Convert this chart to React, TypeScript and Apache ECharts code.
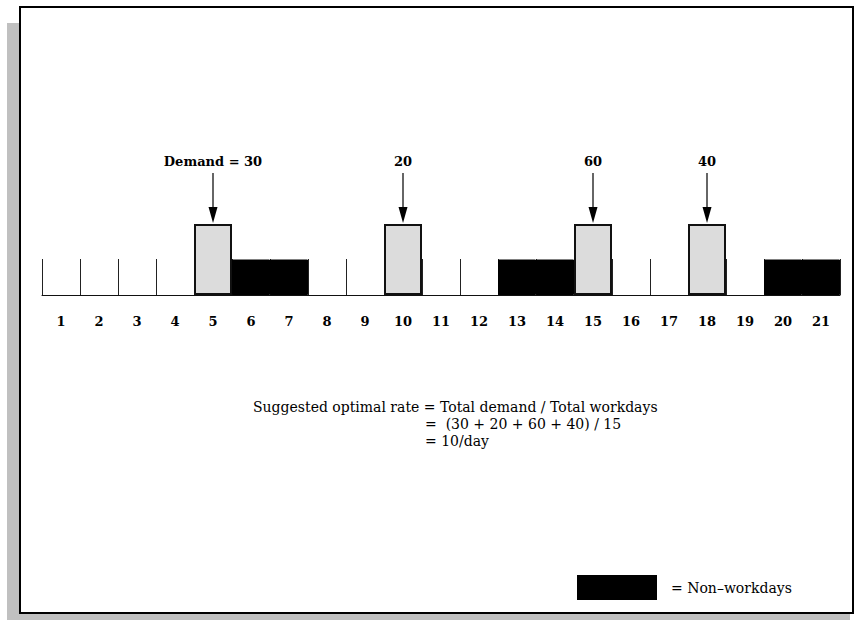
import React, { useEffect, useRef } from "react";
import * as echarts from "echarts";

// Days of the planning horizon (tick labels)
const days = ["1","2","3","4","5","6","7","8","9","10","11","12","13","14","15","16","17","18","19","20","21"];
// Days carrying a demand, and the demand on them
const demandDays = ["5", "10", "15", "18"];
const demandValues = [30, 20, 60, 40];
// Non-workdays
const nonWorkdays = ["6", "7", "13", "14", "20", "21"];
// Schematic heights (in axis units) for the two kinds of blocks
const DEMAND_LEVEL = 2;
const OFF_LEVEL = 1;

const formulaLines = [
  "Suggested optimal rate = Total demand / Total workdays",
  "=  (30 + 20 + 60 + 40) / 15",
  "= 10/day",
];

const SERIF = '"DejaVu Serif", "Liberation Serif", serif';

export default function App() {
  const ref = useRef<HTMLDivElement>(null);
  useEffect(() => {
    if (!ref.current) return;
    const chart = echarts.init(ref.current, null, { renderer: "svg" });
    chart.setOption({
      animation: false,
      backgroundColor: "#ffffff",
      grid: { left: 42, right: 20, top: 224, bottom: 326 },
      xAxis: {
        type: "category",
        data: days,
        boundaryGap: true,
        axisLine: { show: true, lineStyle: { color: "#111", width: 1 } },
        axisTick: { show: true, inside: true, length: 36, interval: 0, lineStyle: { color: "#222", width: 1 } },
        axisLabel: {
          interval: 0,
          margin: 20,
          color: "#000",
          fontFamily: SERIF,
          fontWeight: "bold",
          fontSize: 13,
        },
        splitLine: { show: false },
      },
      yAxis: { type: "value", min: 0, max: DEMAND_LEVEL, show: false, splitLine: { show: false } },
      legend: {
        data: ["Non–workdays"],
        left: 577,
        top: 575,
        padding: 0,
        icon: "rect",
        itemWidth: 78,
        itemHeight: 23,
        selectedMode: false,
        formatter: "= {name}",
        textStyle: { fontFamily: SERIF, fontSize: 14, color: "#000", padding: [0, 0, 0, 10] },
      },
      graphic: [
        { type: "rect", z: -20, shape: { x: 7, y: 23, width: 843, height: 597 }, style: { fill: "#c0c0c0" } },
        { type: "rect", z: -19, shape: { x: 20, y: 7, width: 833, height: 606 }, style: { fill: "#ffffff", stroke: "#000", lineWidth: 2 } },
        ...formulaLines.map((t, i) => ({
          type: "text",
          x: i === 0 ? 253 : 425,
          y: 407 + i * 17,
          style: { text: t, font: `14px ${SERIF}`, fill: "#000", verticalAlign: "middle", align: "left" },
        })),
      ],
      series: [
        {
          name: "Demand",
          type: "bar",
          barWidth: "100%",
          barGap: "-100%",
          data: demandDays.map((d) => [d, DEMAND_LEVEL]),
          itemStyle: { color: "#dcdcdc", borderColor: "#111", borderWidth: 2 },
        },
        {
          name: "Non–workdays",
          type: "bar",
          barWidth: "100%",
          barGap: "-100%",
          data: nonWorkdays.map((d) => [d, OFF_LEVEL]),
          itemStyle: { color: "#000", borderColor: "#000", borderWidth: 1 },
        },
        {
          name: "Arrows",
          type: "custom",
          clip: false,
          data: demandDays.map((d, i) => [d, demandValues[i]]),
          renderItem: (params: any, api: any) => {
            const p = api.coord([api.value(0), DEMAND_LEVEL]);
            const cx = p[0];
            const top = p[1];
            const v = api.value(1);
            const label = params.dataIndex === 0 ? `Demand = ${v}` : String(v);
            return {
              type: "group",
              children: [
                { type: "line", shape: { x1: cx, y1: top - 51, x2: cx, y2: top - 15 }, style: { stroke: "#333", lineWidth: 1.5 } },
                { type: "polygon", shape: { points: [[cx - 4.5, top - 17], [cx + 4.5, top - 17], [cx, top - 1]] }, style: { fill: "#000" } },
                { type: "text", x: cx, y: top - 63, style: { text: label, font: `bold 13px ${SERIF}`, fill: "#000", align: "center", verticalAlign: "middle" } },
              ],
            };
          },
        },
      ],
    });
    return () => chart.dispose();
  }, []);
  return <div ref={ref} style={{ position: "fixed", left: 0, top: 0, width: 860, height: 621 }} />;
}
